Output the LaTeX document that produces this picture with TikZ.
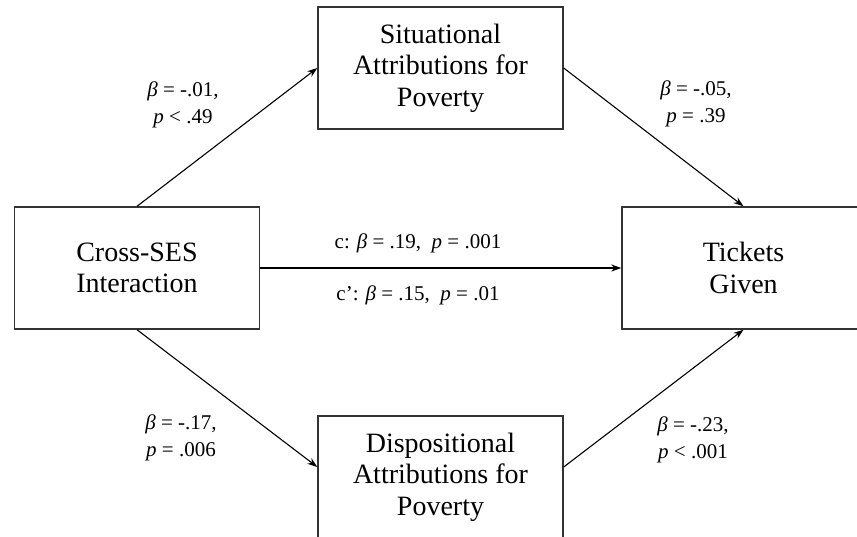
\documentclass[tikz,border=0pt]{standalone}
\usepackage{fontspec}
\setmainfont{Liberation Serif}
\usepackage{tikz}
\usetikzlibrary{arrows.meta}

\begin{document}
\begin{tikzpicture}[x=1pt, y=-1pt,
    box/.style={draw=black!80, line width=1.4pt, minimum width=245pt, minimum height=122pt,
                align=center, font=\fontsize{28}{31.5}\selectfont},
    coef/.style={align=center, font=\fontsize{21}{27}\selectfont},
    link/.style={line width=1.1pt, -{Stealth[length=10pt, width=7pt]}}]
                  \useasboundingbox (0,0) rectangle (857,536);

                  % Boxes
                  \node[box] (cross) at (137,268) {Cross-SES\\Interaction};
                  \node[box] (sit) at (440.5,68) {Situational\\Attributions for\\Poverty};
                  \node[box] (disp) at (440.5,477) {Dispositional\\Attributions for\\Poverty};
                  \node[box, minimum width=243pt] (tix) at (743.5,268) {Tickets\\Given};

                  % Arrows
                  \draw[link] (cross.north) -- (sit.west);
                  \draw[link] (sit.east) -- (tix.north);
                  \draw[link] (cross.east) -- (tix.west);
                  \draw[link] (cross.south) -- ([yshift=10pt]disp.west);
                  \draw[link] ([yshift=10pt]disp.east) -- (tix.south);

                  % Labels
                  \node[coef] (a1) at (183,105) {\textit{β} = -.01,\\\textit{p} < .49};
                  \node[coef] (b1) at (696,104) {\textit{β} = -.05,\\\textit{p} = .39};
                  \node[coef] (c) at (418,243) {c: \textit{β} = .19,\ \ \textit{p} = .001};
                  \node[coef] (cp) at (418,295) {c’: \textit{β} = .15,\ \ \textit{p} = .01};
                  \node[coef] (a2) at (181,438) {\textit{β} = -.17,\\\textit{p} = .006};
                  \node[coef] (b2) at (693,440) {\textit{β} = -.23,\\\textit{p} < .001};

\end{tikzpicture}
\end{document}
